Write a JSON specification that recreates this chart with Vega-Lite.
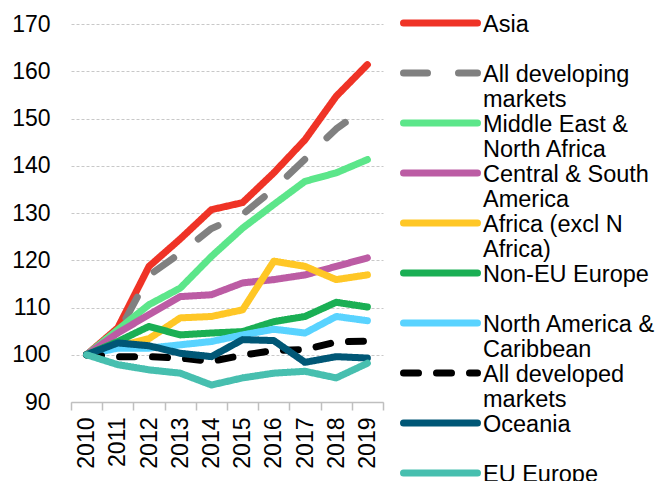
{
  "$schema": "https://vega.github.io/schema/vega-lite/v6.json",
  "width": 312,
  "height": 378,
  "autosize": {"type": "none"},
  "padding": {"left": 71, "top": 24, "right": 277, "bottom": 79},
  "background": "white",
  "config": {"view": {"stroke": null}, "font": "Liberation Sans"},
  "datasets": {
    "rows": [
      {"series": "Asia", "year": "2010", "value": 100},
      {"series": "Asia", "year": "2011", "value": 105.7},
      {"series": "Asia", "year": "2012", "value": 118.7},
      {"series": "Asia", "year": "2013", "value": 124.5},
      {"series": "Asia", "year": "2014", "value": 130.7},
      {"series": "Asia", "year": "2015", "value": 132.2},
      {"series": "Asia", "year": "2016", "value": 138.5},
      {"series": "Asia", "year": "2017", "value": 145.5},
      {"series": "Asia", "year": "2018", "value": 154.7},
      {"series": "Asia", "year": "2019", "value": 161.4},
      {"series": "All developing markets", "year": "2010", "value": 100},
      {"series": "All developing markets", "year": "2011", "value": 104.5},
      {"series": "All developing markets", "year": "2012", "value": 116.8},
      {"series": "All developing markets", "year": "2013", "value": 121.5},
      {"series": "All developing markets", "year": "2014", "value": 126.7},
      {"series": "All developing markets", "year": "2015", "value": 129.7},
      {"series": "All developing markets", "year": "2016", "value": 135.1},
      {"series": "All developing markets", "year": "2017", "value": 141.4},
      {"series": "All developing markets", "year": "2018", "value": 147.8},
      {"series": "All developing markets", "year": "2019", "value": 152.5},
      {"series": "Middle East & North Africa", "year": "2010", "value": 100},
      {"series": "Middle East & North Africa", "year": "2011", "value": 105.3},
      {"series": "Middle East & North Africa", "year": "2012", "value": 110.6},
      {"series": "Middle East & North Africa", "year": "2013", "value": 114.1},
      {"series": "Middle East & North Africa", "year": "2014", "value": 120.8},
      {"series": "Middle East & North Africa", "year": "2015", "value": 126.8},
      {"series": "Middle East & North Africa", "year": "2016", "value": 131.8},
      {"series": "Middle East & North Africa", "year": "2017", "value": 136.7},
      {"series": "Middle East & North Africa", "year": "2018", "value": 138.5},
      {"series": "Middle East & North Africa", "year": "2019", "value": 141.3},
      {"series": "Central & South America", "year": "2010", "value": 100},
      {"series": "Central & South America", "year": "2011", "value": 104.6},
      {"series": "Central & South America", "year": "2012", "value": 108.5},
      {"series": "Central & South America", "year": "2013", "value": 112.3},
      {"series": "Central & South America", "year": "2014", "value": 112.7},
      {"series": "Central & South America", "year": "2015", "value": 115.2},
      {"series": "Central & South America", "year": "2016", "value": 115.9},
      {"series": "Central & South America", "year": "2017", "value": 116.9},
      {"series": "Central & South America", "year": "2018", "value": 118.7},
      {"series": "Central & South America", "year": "2019", "value": 120.5},
      {"series": "Africa (excl N Africa)", "year": "2010", "value": 100},
      {"series": "Africa (excl N Africa)", "year": "2011", "value": 101.8},
      {"series": "Africa (excl N Africa)", "year": "2012", "value": 103.4},
      {"series": "Africa (excl N Africa)", "year": "2013", "value": 107.8},
      {"series": "Africa (excl N Africa)", "year": "2014", "value": 108.1},
      {"series": "Africa (excl N Africa)", "year": "2015", "value": 109.5},
      {"series": "Africa (excl N Africa)", "year": "2016", "value": 119.8},
      {"series": "Africa (excl N Africa)", "year": "2017", "value": 118.7},
      {"series": "Africa (excl N Africa)", "year": "2018", "value": 115.9},
      {"series": "Africa (excl N Africa)", "year": "2019", "value": 116.9},
      {"series": "Non-EU Europe", "year": "2010", "value": 100},
      {"series": "Non-EU Europe", "year": "2011", "value": 102.8},
      {"series": "Non-EU Europe", "year": "2012", "value": 106},
      {"series": "Non-EU Europe", "year": "2013", "value": 104.2},
      {"series": "Non-EU Europe", "year": "2014", "value": 104.6},
      {"series": "Non-EU Europe", "year": "2015", "value": 104.9},
      {"series": "Non-EU Europe", "year": "2016", "value": 107},
      {"series": "Non-EU Europe", "year": "2017", "value": 108.1},
      {"series": "Non-EU Europe", "year": "2018", "value": 111.1},
      {"series": "Non-EU Europe", "year": "2019", "value": 110.1},
      {"series": "North America & Caribbean", "year": "2010", "value": 100},
      {"series": "North America & Caribbean", "year": "2011", "value": 101.4},
      {"series": "North America & Caribbean", "year": "2012", "value": 101.4},
      {"series": "North America & Caribbean", "year": "2013", "value": 102.1},
      {"series": "North America & Caribbean", "year": "2014", "value": 102.8},
      {"series": "North America & Caribbean", "year": "2015", "value": 104.2},
      {"series": "North America & Caribbean", "year": "2016", "value": 105.4},
      {"series": "North America & Caribbean", "year": "2017", "value": 104.6},
      {"series": "North America & Caribbean", "year": "2018", "value": 108.1},
      {"series": "North America & Caribbean", "year": "2019", "value": 107.2},
      {"series": "All developed markets", "year": "2010", "value": 100},
      {"series": "All developed markets", "year": "2011", "value": 99.6},
      {"series": "All developed markets", "year": "2012", "value": 99.6},
      {"series": "All developed markets", "year": "2013", "value": 99.3},
      {"series": "All developed markets", "year": "2014", "value": 98.6},
      {"series": "All developed markets", "year": "2015", "value": 99.9},
      {"series": "All developed markets", "year": "2016", "value": 100.9},
      {"series": "All developed markets", "year": "2017", "value": 101.1},
      {"series": "All developed markets", "year": "2018", "value": 102.7},
      {"series": "All developed markets", "year": "2019", "value": 102.9},
      {"series": "Oceania", "year": "2010", "value": 100},
      {"series": "Oceania", "year": "2011", "value": 102.5},
      {"series": "Oceania", "year": "2012", "value": 101.9},
      {"series": "Oceania", "year": "2013", "value": 100.3},
      {"series": "Oceania", "year": "2014", "value": 99.6},
      {"series": "Oceania", "year": "2015", "value": 103.2},
      {"series": "Oceania", "year": "2016", "value": 103},
      {"series": "Oceania", "year": "2017", "value": 98.4},
      {"series": "Oceania", "year": "2018", "value": 99.6},
      {"series": "Oceania", "year": "2019", "value": 99.3},
      {"series": "EU Europe", "year": "2010", "value": 100},
      {"series": "EU Europe", "year": "2011", "value": 97.9},
      {"series": "EU Europe", "year": "2012", "value": 96.8},
      {"series": "EU Europe", "year": "2013", "value": 96.1},
      {"series": "EU Europe", "year": "2014", "value": 93.6},
      {"series": "EU Europe", "year": "2015", "value": 95.1},
      {"series": "EU Europe", "year": "2016", "value": 96.1},
      {"series": "EU Europe", "year": "2017", "value": 96.5},
      {"series": "EU Europe", "year": "2018", "value": 95.1},
      {"series": "EU Europe", "year": "2019", "value": 98.2}
    ]
  },
  "data": {"name": "rows"},
  "mark": {"type": "line", "strokeWidth": 7, "strokeCap": "round", "strokeJoin": "round"},
  "encoding": {
    "x": {
      "field": "year",
      "type": "ordinal",
      "scale": {"type": "band", "paddingInner": 0, "paddingOuter": 0},
      "axis": {
        "title": null,
        "labelAngle": -90,
        "labelFontSize": 23,
        "labelColor": "#000000",
        "tickBand": "extent",
        "domainColor": "#BFBFBF",
        "domainWidth": 1.5,
        "tickColor": "#BFBFBF",
        "tickWidth": 1.5,
        "tickSize": 8,
        "labelPadding": 7,
        "grid": false
      }
    },
    "y": {
      "field": "value",
      "type": "quantitative",
      "scale": {"domain": [90, 170], "nice": false, "zero": false},
      "axis": {
        "title": null,
        "values": [90, 100, 110, 120, 130, 140, 150, 160, 170],
        "ticks": false,
        "domain": false,
        "labelFontSize": 23,
        "labelColor": "#000000",
        "labelPadding": 21,
        "grid": true,
        "gridColor": "#C8C8C8",
        "gridDash": [3, 2],
        "gridWidth": 1
      }
    },
    "color": {
      "field": "series",
      "type": "nominal",
      "sort": null,
      "scale": {
        "domain": ["Asia", "All developing markets", "Middle East & North Africa", "Central & South America", "Africa (excl N Africa)", "Non-EU Europe", "North America & Caribbean", "All developed markets", "Oceania", "EU Europe"],
        "range": ["#EF3326", "#808080", "#5CE68A", "#BC5CA4", "#FFC726", "#1AAF54", "#59D3FF", "#000000", "#005776", "#47BFAF"]
      },
      "legend": {
        "title": null,
        "orient": "none",
        "legendX": 329,
        "legendY": -11,
        "padding": 0,
        "symbolType": "stroke",
        "symbolSize": 5476,
        "symbolStrokeWidth": 7,
        "labelFontSize": 23.5,
        "labelColor": "#000000",
        "labelLimit": 400,
        "labelOffset": 2,
        "labelBaseline": "top",
        "clipHeight": 20,
        "rowPadding": 1,
        "labelExpr": "datum.label == 'Asia' || datum.label == 'Non-EU Europe' || datum.label == 'Oceania' || datum.label == 'EU Europe' ? [datum.label, ''] : split(replace(replace(replace(replace(replace(replace(datum.label, 'developing ', 'developing|'), '& North', '&|North'), 'South ', 'South|'), 'N Africa', 'N|Africa'), '& Caribbean', '&|Caribbean'), 'developed ', 'developed|'), '|')",
        "encode": {
          "labels": {"update": {"dy": {"value": -10}, "lineHeight": {"value": 25}}},
          "symbols": {"update": {"strokeCap": {"value": "round"}}}
        }
      }
    },
    "strokeDash": {
      "field": "series",
      "type": "nominal",
      "sort": null,
      "scale": {
        "domain": ["Asia", "All developing markets", "Middle East & North Africa", "Central & South America", "Africa (excl N Africa)", "Non-EU Europe", "North America & Caribbean", "All developed markets", "Oceania", "EU Europe"],
        "range": [[1, 0], [24, 31], [1, 0], [1, 0], [1, 0], [1, 0], [1, 0], [15, 18], [1, 0], [1, 0]]
      },
      "legend": {
        "title": null,
        "orient": "none",
        "legendX": 329,
        "legendY": -11,
        "padding": 0,
        "symbolType": "stroke",
        "symbolSize": 5476,
        "symbolStrokeWidth": 7,
        "labelFontSize": 23.5,
        "labelColor": "#000000",
        "labelLimit": 400,
        "labelOffset": 2,
        "labelBaseline": "top",
        "clipHeight": 20,
        "rowPadding": 1,
        "labelExpr": "datum.label == 'Asia' || datum.label == 'Non-EU Europe' || datum.label == 'Oceania' || datum.label == 'EU Europe' ? [datum.label, ''] : split(replace(replace(replace(replace(replace(replace(datum.label, 'developing ', 'developing|'), '& North', '&|North'), 'South ', 'South|'), 'N Africa', 'N|Africa'), '& Caribbean', '&|Caribbean'), 'developed ', 'developed|'), '|')",
        "encode": {
          "labels": {"update": {"dy": {"value": -10}, "lineHeight": {"value": 25}}},
          "symbols": {"update": {"strokeCap": {"value": "round"}}}
        }
      }
    }
  }
}
